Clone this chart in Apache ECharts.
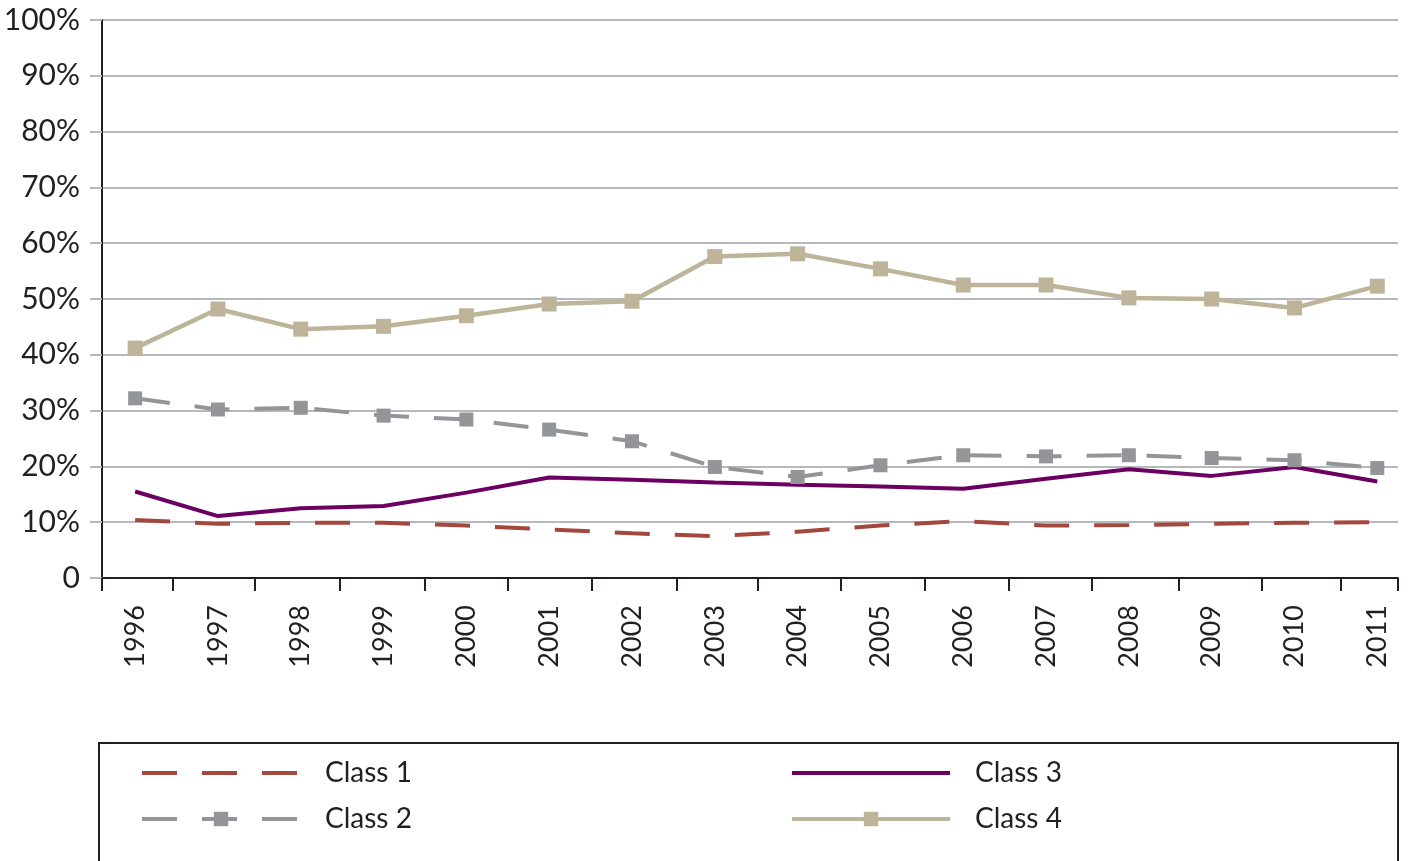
<!DOCTYPE html>
<html lang="en">
<head>
<meta charset="UTF-8">
<title>Class shares 1996-2011</title>
<script src="https://cdn.jsdelivr.net/npm/echarts/dist/echarts.min.js"></script>
<style>html,body{margin:0;padding:0;background:#fff}</style>
</head>
<body>
<div id="chart" style="width:1415px;height:861px;"></div>
<script>
// values, in percent
const years  = [1996, 1997, 1998, 1999, 2000, 2001, 2002, 2003, 2004, 2005, 2006, 2007, 2008, 2009, 2010, 2011];
const class1 = [10.4, 9.7, 9.9, 9.9, 9.4, 8.7, 8.0, 7.5, 8.3, 9.4, 10.2, 9.4, 9.5, 9.7, 9.9, 10.0];
const class2 = [32.2, 30.2, 30.5, 29.1, 28.4, 26.6, 24.5, 19.9, 18.1, 20.2, 22.0, 21.8, 22.0, 21.5, 21.1, 19.7];
const class3 = [15.5, 11.1, 12.5, 12.9, 15.3, 18.0, 17.6, 17.1, 16.7, 16.4, 16.0, 17.8, 19.5, 18.3, 19.9, 17.3];
const class4 = [41.2, 48.2, 44.6, 45.1, 47.0, 49.1, 49.6, 57.6, 58.1, 55.4, 52.5, 52.5, 50.2, 50.0, 48.4, 52.3];
const tickYears = [1995.6, 1996.45, 1997.45, 1998.47, 1999.5, 2000.5, 2001.52, 2002.54, 2003.52,
                   2004.52, 2005.54, 2006.55, 2007.55, 2008.6, 2009.6, 2010.56, 2011.25];

const font = 'Lato, "Open Sans", sans-serif';
const ink = '#231f20';
const pairs = arr => years.map((y, i) => [y, arr[i]]);
const noMarker = { opacity: 0 };

const chart = echarts.init(document.getElementById('chart'));

const legendCommon = {
    orient: 'vertical',
    top: 758,
    padding: 0,
    itemWidth: 158,
    itemHeight: 18,
    itemGap: 16,
    lineStyle: { width: 4 },
    textStyle: { fontFamily: font, fontSize: 28, color: ink, lineHeight: 30, padding: [0, 0, 0, 20] }
};

chart.setOption({
    animation: false,
    grid: { left: 102, right: 17, top: 20, bottom: 283 },
    legend: [
        Object.assign({ left: 140, data: [{ name: 'Class 1', itemStyle: noMarker }, 'Class 2'] }, legendCommon),
        Object.assign({ left: 790, data: [{ name: 'Class 3', itemStyle: noMarker }, 'Class 4'] }, legendCommon)
    ],
    graphic: [{
        type: 'rect',
        shape: { x: 99, y: 743, width: 1299, height: 140 },
        style: { fill: 'none', stroke: ink, lineWidth: 2 },
        silent: true
    }],
    xAxis: {
        type: 'value',
        min: 1995.6,
        max: 2011.25,
        axisLine: { lineStyle: { color: ink, width: 2 } },
        axisTick: { customValues: tickYears, length: 13, lineStyle: { color: ink, width: 2 } },
        axisLabel: {
            customValues: years,
            rotate: 90,
            margin: 27,
            fontFamily: font,
            fontSize: 27,
            color: ink,
            formatter: v => String(v)
        },
        splitLine: { show: false }
    },
    yAxis: {
        type: 'value',
        min: 0,
        max: 100,
        interval: 10,
        axisLine: { show: true, lineStyle: { color: ink, width: 2 } },
        axisTick: { show: true, length: 12, lineStyle: { color: '#b7b8bc', width: 2 } },
        axisLabel: {
            margin: 22,
            fontFamily: font,
            fontSize: 30,
            color: ink,
            formatter: v => v === 0 ? '0' : v + '%'
        },
        splitLine: { lineStyle: { color: '#b7b8bc', width: 2 } }
    },
    series: [
        {
            name: 'Class 1', type: 'line', data: pairs(class1),
            symbol: 'none', color: '#a3483c',
            lineStyle: { width: 4, type: [35, 25] }
        },
        {
            name: 'Class 2', type: 'line', data: pairs(class2),
            symbol: 'rect', symbolSize: 14, color: '#939598',
            lineStyle: { width: 4, type: [35, 25] }
        },
        {
            name: 'Class 3', type: 'line', data: pairs(class3),
            symbol: 'none', color: '#6b0062',
            lineStyle: { width: 4 }
        },
        {
            name: 'Class 4', type: 'line', data: pairs(class4),
            symbol: 'rect', symbolSize: 15, color: '#bdb49a',
            lineStyle: { width: 4.5 }
        }
    ]
});
</script>
</body>
</html>
